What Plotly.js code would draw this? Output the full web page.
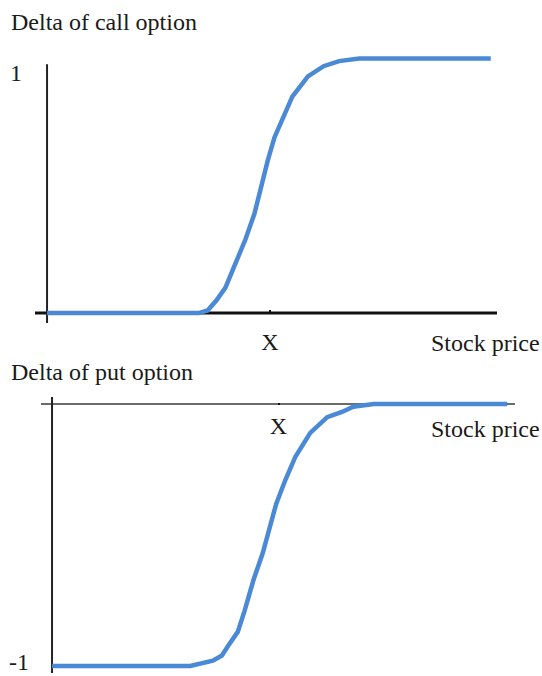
<!DOCTYPE html>
<html>
<head>
<meta charset="utf-8">
<script src="https://cdn.plot.ly/plotly-3.0.1.min.js"></script>
<style>html,body{margin:0;padding:0;background:#fff;}#chart{width:542px;height:676px;}</style>
</head>
<body>
<div id="chart"></div>
<script>
// Call option delta vs stock price (strike X = 100)
const callPrice = [0, 68, 72, 76, 80, 85, 89, 93, 96, 99, 102, 107, 110, 117, 124, 131, 140, 199];
const callDelta = [0, 0, 0.01, 0.05, 0.10, 0.20, 0.29, 0.39, 0.50, 0.60, 0.69, 0.79, 0.85, 0.93, 0.97, 0.99, 1, 1];

// Put option delta vs stock price
const putPrice = [0, 61, 71, 75, 78, 82, 85, 89, 93, 96, 99, 103, 107.5, 114, 121.5, 128, 133, 142, 201];
const putDelta = [-1, -1, -0.98, -0.96, -0.92, -0.87, -0.79, -0.67, -0.57, -0.48, -0.38, -0.29, -0.20, -0.11, -0.05, -0.03, -0.01, 0, 0];

const strike = [100];
const strikeText = ['X'];
const titles = ['Delta of call option', 'Delta of put option'];
const xLabel = 'Stock price';
const yLabels = ['1', '-1'];

const W = 542, H = 676;
const px = v => v / W;
const py = v => 1 - v / H;
const serif = 'Liberation Serif, Times New Roman, serif';
const blue = '#4a89d6';

const traces = [
  {x: callPrice, y: callDelta, xaxis: 'x', yaxis: 'y', mode: 'lines', line: {color: blue, width: 4.5}, hoverinfo: 'skip'},
  {x: putPrice, y: putDelta, xaxis: 'x2', yaxis: 'y2', mode: 'lines', line: {color: blue, width: 4.5}, hoverinfo: 'skip'}
];

const xr1 = [-5.4, 201.8], yr1 = [-0.039, 1.01];
const xr2 = [-4.87, 204.4], yr2 = [-1.027, 0.027];

const baseAxis = {showgrid: false, zeroline: false, showline: false, fixedrange: true};

const layout = {
  width: W, height: H,
  margin: {l: 0, r: 0, t: 0, b: 0},
  paper_bgcolor: '#fff', plot_bgcolor: 'rgba(0,0,0,0)',
  showlegend: false,
  font: {family: serif, size: 24, color: '#1a1a1a'},
  xaxis: Object.assign({}, baseAxis, {
    domain: [px(35), px(497)], range: xr1, anchor: 'free', position: py(313),
    tickvals: strike, ticktext: strikeText, ticks: 'inside', ticklen: 3, tickwidth: 2, tickcolor: '#111',
    tickfont: {family: serif, size: 24, color: '#1a1a1a'}, ticklabelstandoff: 12
  }),
  yaxis: Object.assign({}, baseAxis, {domain: [py(323), py(56)], range: yr1, showticklabels: false, ticks: ''}),
  xaxis2: Object.assign({}, baseAxis, {
    domain: [px(41), px(515)], range: xr2, anchor: 'free', position: py(405),
    tickvals: strike, ticktext: strikeText, ticks: 'inside', ticklen: 2, tickwidth: 2, tickcolor: '#111',
    tickfont: {family: serif, size: 24, color: '#1a1a1a'}, ticklabelstandoff: 4
  }),
  yaxis2: Object.assign({}, baseAxis, {domain: [py(673), py(397)], range: yr2, showticklabels: false, ticks: ''}),
  shapes: [
    {type: 'line', xref: 'x', yref: 'y', x0: xr1[0], x1: xr1[1], y0: 0, y1: 0, line: {color: '#111', width: 3}, layer: 'below'},
    {type: 'line', xref: 'x', yref: 'y', x0: 0, x1: 0, y0: -0.039, y1: 0.978, line: {color: '#222', width: 2}, layer: 'below'},
    {type: 'line', xref: 'x2', yref: 'y2', x0: xr2[0], x1: xr2[1], y0: 0, y1: 0, line: {color: '#3a3a3a', width: 1.6}, layer: 'below'},
    {type: 'line', xref: 'x2', yref: 'y2', x0: 0, x1: 0, y0: yr2[0], y1: yr2[1], line: {color: '#222', width: 2}, layer: 'below'}
  ],
  annotations: [
    {text: titles[0], xref: 'paper', yref: 'paper', x: px(9), y: py(22), xanchor: 'left', yanchor: 'middle', showarrow: false},
    {text: titles[1], xref: 'paper', yref: 'paper', x: px(9), y: py(372), xanchor: 'left', yanchor: 'middle', showarrow: false},
    {text: xLabel, xref: 'paper', yref: 'paper', x: px(429), y: py(343), xanchor: 'left', yanchor: 'middle', showarrow: false},
    {text: xLabel, xref: 'paper', yref: 'paper', x: px(429), y: py(429), xanchor: 'left', yanchor: 'middle', showarrow: false},
    {text: yLabels[0], xref: 'paper', yref: 'paper', x: px(16), y: py(73), xanchor: 'center', yanchor: 'middle', showarrow: false},
    {text: yLabels[1], xref: 'paper', yref: 'paper', x: px(19), y: py(662), xanchor: 'center', yanchor: 'middle', showarrow: false, borderpad: 0}
  ]
};

Plotly.newPlot('chart', traces, layout, {displayModeBar: false, staticPlot: true});
</script>
</body>
</html>
